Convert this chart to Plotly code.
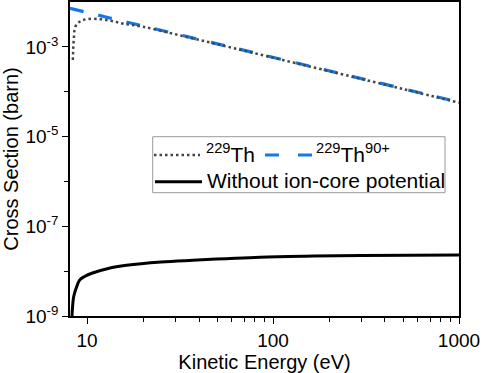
import plotly.graph_objects as go
import math

# ---- data ----
th_energy = [8.39, 8.42, 8.46, 8.51, 8.57, 8.8, 9.3, 10, 11.7, 13.5, 15.6, 20, 30, 50, 100, 200, 500, 1000]
th_sigma = [5.1e-4, 8e-4, 1.2e-3, 1.7e-3, 2.4e-3, 3.2e-3, 3.8e-3, 4.15e-3, 4.15e-3, 3.8e-3, 3.3e-3,
            2.8e-3, 1.9e-3, 1.15e-3, 5.75e-4, 2.88e-4, 1.15e-4, 5.7e-5]

th90_energy = [8.1, 10, 15, 20, 30, 50, 100, 200, 500, 1000]
th90_sigma = [7.22e-3, 5.85e-3, 3.9e-3, 2.93e-3, 1.95e-3, 1.17e-3, 5.85e-4, 2.93e-4, 1.17e-4, 5.85e-5]

noion_energy = [8.28, 8.35, 8.45, 8.6, 8.75, 9.12, 9.7, 10.7, 13, 16.3, 25, 37, 56, 85, 150, 300, 1000]
noion_sigma = [8e-10, 1.5e-9, 2.5e-9, 3.4e-9, 4.2e-9, 6.3e-9, 7.6e-9, 9.1e-9, 1.15e-8, 1.35e-8,
               1.6e-8, 1.75e-8, 1.9e-8, 2.05e-8, 2.15e-8, 2.22e-8, 2.3e-8]

x_major = [10, 100, 1000]
x_major_text = ["10", "100", "1000"]
x_minor = [20, 30, 40, 50, 60, 70, 80, 90, 200, 300, 400, 500, 600, 700, 800, 900]
y_major = [1e-9, 1e-7, 1e-5, 1e-3]
y_major_text = ["10<sup>-9</sup>", "10<sup>-7</sup>", "10<sup>-5</sup>", "10<sup>-3</sup>"]
y_minor = [1e-8, 1e-6, 1e-4]

legend_labels = ["<sup>229</sup>Th", "<sup>229</sup>Th<sup>90+</sup>", "Without ion-core potential"]

FONT = "Liberation Sans, Arial, sans-serif"
BLUE = "#1677e6"
GRAY = "#454545"

fig = go.Figure()
fig.add_trace(go.Scatter(x=th90_energy, y=th90_sigma, mode="lines",
                         line=dict(color=BLUE, width=3.2, dash="14px,15px"), showlegend=False))
fig.add_trace(go.Scatter(x=th_energy, y=th_sigma, mode="lines", line_shape="spline",
                         line=dict(color=GRAY, width=2.5, dash="2.5px,3px"), showlegend=False))
fig.add_trace(go.Scatter(x=noion_energy, y=noion_sigma, mode="lines", line_shape="spline",
                         line=dict(color="black", width=3), showlegend=False))

W, H = 484, 373
L, R, T, B = 70, 25, 2, 57
pw, ph = W - L - R, H - T - B


def px(x):
    return (x - L) / pw


def py(y):
    return (H - B - y) / ph


# manual legend
shapes = [
    dict(type="rect", xref="paper", yref="paper", x0=px(152.7), x1=px(445), y0=py(192.7), y1=py(136.7),
         line=dict(color="#9a9a9a", width=1), fillcolor="white", layer="above"),
    dict(type="line", xref="paper", yref="paper", x0=px(154), x1=px(200), y0=py(155), y1=py(155),
         line=dict(color=GRAY, width=2.5, dash="2.5px,3px"), layer="above"),
    dict(type="line", xref="paper", yref="paper", x0=px(265), x1=px(312), y0=py(155), y1=py(155),
         line=dict(color=BLUE, width=3.2, dash="14px,19px"), layer="above"),
    dict(type="line", xref="paper", yref="paper", x0=px(155), x1=px(202), y0=py(181.7), y1=py(181.7),
         line=dict(color="black", width=3), layer="above"),
]
annotations = [
    dict(xref="paper", yref="paper", x=px(204), y=py(153), text=legend_labels[0], showarrow=False,
         xanchor="left", yanchor="middle", font=dict(size=21, color="black", family=FONT)),
    dict(xref="paper", yref="paper", x=px(314), y=py(153), text=legend_labels[1], showarrow=False,
         xanchor="left", yanchor="middle", font=dict(size=21, color="black", family=FONT)),
    dict(xref="paper", yref="paper", x=px(205), y=py(180), text=legend_labels[2], showarrow=False,
         xanchor="left", yanchor="middle", font=dict(size=21, color="black", family=FONT)),
]

fig.update_layout(
    width=W, height=H,
    margin=dict(l=L, r=R, t=T, b=B, pad=0, autoexpand=False),
    paper_bgcolor="white", plot_bgcolor="white",
    font=dict(family=FONT, size=19, color="black"),
    shapes=shapes, annotations=annotations,
    showlegend=False,
)
fig.update_xaxes(
    type="log", range=[math.log10(8.1), 3], automargin=False,
    tickmode="array", tickvals=x_major, ticktext=x_major_text,
    ticks="outside", ticklen=6, tickwidth=1.3, tickcolor="black",
    minor=dict(tickmode="array", tickvals=x_minor, ticks="outside", ticklen=4, tickwidth=1.2, tickcolor="black"),
    showline=True, linecolor="black", linewidth=1.5, mirror=True,
    showgrid=False, zeroline=False,
    tickfont=dict(size=19),
    title=dict(text="Kinetic Energy (eV)", font=dict(size=20), standoff=6),
)
fig.update_yaxes(
    type="log", range=[-9, -2], automargin=False,
    tickmode="array", tickvals=y_major, ticktext=y_major_text,
    ticks="outside", ticklen=6, tickwidth=1.3, tickcolor="black",
    minor=dict(tickmode="array", tickvals=y_minor, ticks="outside", ticklen=4, tickwidth=1.2, tickcolor="black"),
    showline=True, linecolor="black", linewidth=1.5, mirror=True,
    showgrid=False, zeroline=False,
    tickfont=dict(size=19),
    title=dict(text="Cross Section (barn)", font=dict(size=20), standoff=4),
)

fig.write_html("out.html", config={"displayModeBar": False},
               post_script="document.body.style.margin='0';")
